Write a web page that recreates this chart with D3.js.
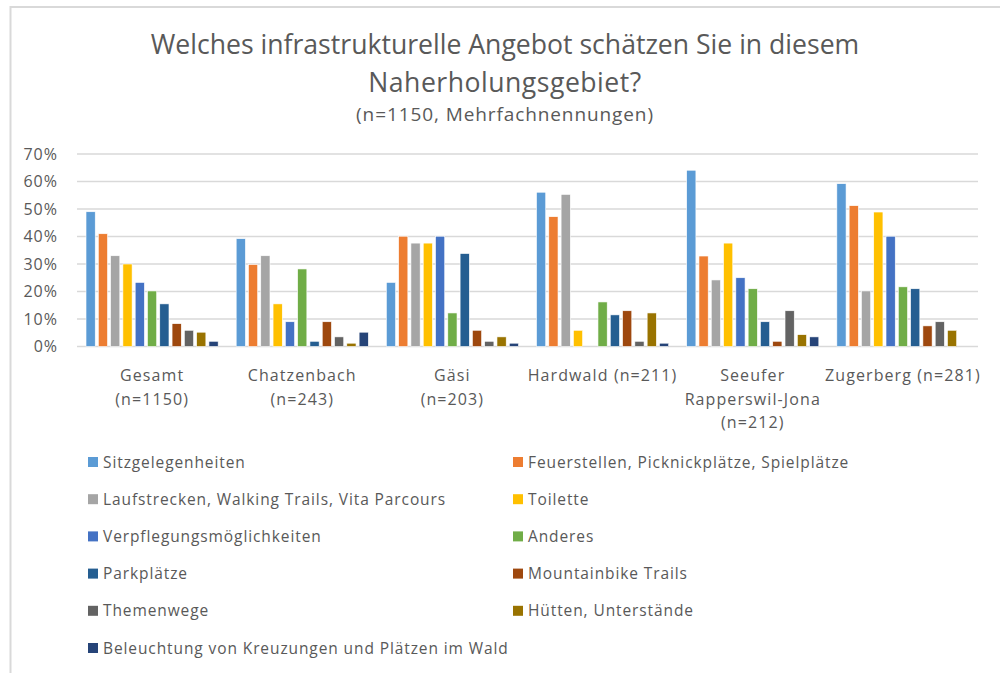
<!DOCTYPE html>
<html>
<head>
<meta charset="utf-8">
<script src="https://cdn.jsdelivr.net/npm/d3@7"></script>
<style>
  body { margin: 0; background: #fff; }
  svg { font-family: "Open Sans", "Noto Sans", sans-serif; }
</style>
</head>
<body>
<svg id="svg" width="1000" height="673"></svg>
<script>
// chart values
var groups = [["Gesamt", "(n=1150)"], ["Chatzenbach", "(n=243)"], ["Gäsi", "(n=203)"],
              ["Hardwald (n=211)"], ["Seeufer", "Rapperswil-Jona", "(n=212)"], ["Zugerberg (n=281)"]];
var series = ["Sitzgelegenheiten", "Feuerstellen, Picknickplätze, Spielplätze",
              "Laufstrecken, Walking Trails, Vita Parcours", "Toilette",
              "Verpflegungsmöglichkeiten", "Anderes", "Parkplätze", "Mountainbike Trails",
              "Themenwege", "Hütten, Unterstände", "Beleuchtung von Kreuzungen und Plätzen im Wald"];
var colors = ["#5b9bd5", "#ed7d31", "#a5a5a5", "#ffc000", "#4472c4", "#70ad47",
              "#255e91", "#9e480e", "#636363", "#997300", "#264478"];
// one row per group, one value (%) per series
var values = [
  [49, 41, 33, 30, 23.3, 20.2, 15.5, 8.3, 5.9, 5.2, 1.9],
  [39.2, 29.8, 33, 15.5, 9, 28.2, 1.9, 9, 3.5, 1.2, 5.2],
  [23.3, 40.1, 37.6, 37.6, 40.1, 12.2, 33.8, 5.9, 1.9, 3.5, 1.2],
  [56.1, 47.2, 55.3, 5.9, 0, 16.2, 11.5, 13, 1.9, 12.2, 1.2],
  [64.1, 32.9, 24.2, 37.6, 25, 21, 9, 1.9, 13, 4.3, 3.5],
  [59.2, 51.2, 20.2, 48.9, 40.1, 21.7, 21, 7.5, 9, 5.9, 0]
];
var yTicks = [0, 10, 20, 30, 40, 50, 60, 70];

var svg = d3.select("#svg");
var textColor = "#595959";

// chart border
svg.append("rect")
  .attr("x", 10.5).attr("y", 7).attr("width", 1000).attr("height", 700)
  .attr("fill", "none").attr("stroke", "#d9d9d9").attr("stroke-width", 2);

// title
svg.append("text").attr("x", 505).attr("y", 54).attr("text-anchor", "middle")
  .attr("font-size", 26.6).attr("fill", textColor)
  .text("Welches infrastrukturelle Angebot schätzen Sie in diesem");
svg.append("text").attr("x", 505).attr("y", 92).attr("text-anchor", "middle")
  .attr("font-size", 26.6).attr("fill", textColor).attr("letter-spacing", 0.5)
  .text("Naherholungsgebiet?");
svg.append("text").attr("x", 505).attr("y", 121).attr("text-anchor", "middle")
  .attr("font-size", 19).attr("fill", textColor).attr("letter-spacing", 0.9)
  .text("(n=1150, Mehrfachnennungen)");

var x0 = d3.scaleBand().domain(d3.range(groups.length)).range([77, 978])
  .paddingInner(0.12).paddingOuter(0.06);
var x1 = d3.scaleBand().domain(d3.range(series.length)).range([0, x0.bandwidth()])
  .paddingInner(0.25).paddingOuter(0);
var y = d3.scaleLinear().domain([0, 70]).range([346.5, 154]);

// gridlines
svg.append("g").selectAll("line").data(yTicks).enter().append("line")
  .attr("x1", 77).attr("x2", 978)
  .attr("y1", function(d) { return y(d); }).attr("y2", function(d) { return y(d); })
  .attr("stroke", "#d9d9d9").attr("stroke-width", 1.5);

// y axis labels
var yAxis = svg.append("g").attr("transform", "translate(60,0)")
  .call(d3.axisLeft(y).tickValues(yTicks).tickSize(0).tickPadding(2)
    .tickFormat(function(d) { return d + "%"; }));
yAxis.select(".domain").remove();
yAxis.selectAll("text").attr("font-size", 16).attr("fill", textColor)
  .attr("letter-spacing", 1)
  .attr("font-family", "Open Sans, sans-serif");

// bars
var g = svg.append("g").selectAll("g").data(values).enter().append("g")
  .attr("transform", function(d, i) { return "translate(" + x0(i) + ",0)"; });
g.selectAll("rect").data(function(d) { return d; }).enter().append("rect")
  .attr("x", function(d, i) { return x1(i); })
  .attr("width", x1.bandwidth())
  .attr("y", function(d) { return y(d); })
  .attr("height", function(d) { return y(0) - y(d); })
  .attr("fill", function(d, i) { return colors[i]; })
  .attr("stroke", "#fff").attr("stroke-width", 0.6);

// category labels
var cat = svg.append("g").selectAll("text").data(groups).enter().append("text")
  .attr("x", function(d, i) { return x0(i) + x0.bandwidth() / 2; })
  .attr("y", 381).attr("text-anchor", "middle")
  .attr("font-size", 16).attr("letter-spacing", 1.1).attr("fill", textColor);
cat.selectAll("tspan").data(function(d) { return d; }).enter().append("tspan")
  .attr("x", function() { return this.parentNode.getAttribute("x"); })
  .attr("dy", function(d, i) { return i === 0 ? 0 : 23.5; })
  .text(function(d) { return d; });

// legend, two columns
var leg = svg.append("g").selectAll("g").data(series).enter().append("g")
  .attr("transform", function(d, i) {
    return "translate(" + (i % 2 === 0 ? 88 : 513) + "," + (462 + Math.floor(i / 2) * 37.2) + ")";
  });
leg.append("rect").attr("x", 0).attr("y", -5).attr("width", 10).attr("height", 10)
  .attr("fill", function(d, i) { return colors[i]; });
leg.append("text").attr("x", 15).attr("y", 5.5)
  .attr("font-size", 15.5).attr("letter-spacing", 0.9).attr("fill", textColor)
  .text(function(d) { return d; });
</script>
</body>
</html>
